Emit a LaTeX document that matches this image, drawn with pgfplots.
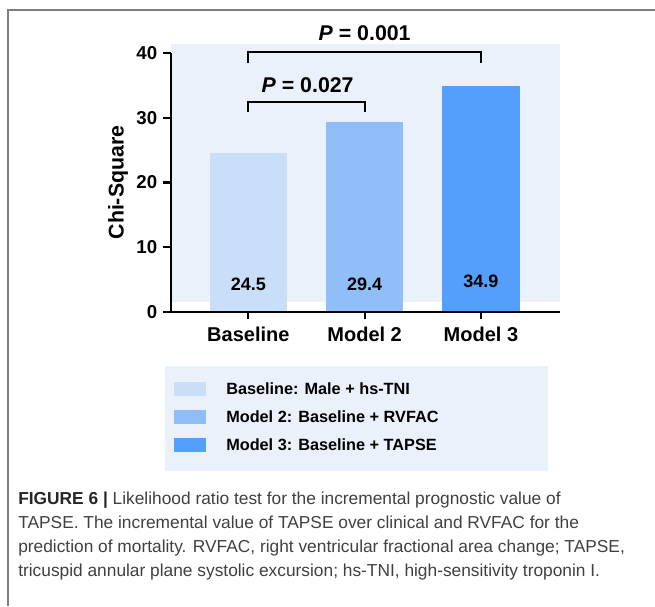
\documentclass[border=0pt]{standalone}
\usepackage{fontspec}
\setmainfont{Liberation Sans}
\usepackage{pgfplots}
\pgfplotsset{compat=1.18}

\definecolor{panelbg}{HTML}{EBF1FA}
\definecolor{barA}{HTML}{C9DEF8}
\definecolor{barB}{HTML}{90BEF8}
\definecolor{barC}{HTML}{539FFB}
\definecolor{framegray}{HTML}{7F7F7F}
\definecolor{captext}{HTML}{404040}

\begin{document}
\begin{tikzpicture}[x=0.75pt,y=0.75pt]
\useasboundingbox (0,0) rectangle (655,-606);
% page frame and legend panel
\draw[framegray, line width=1.5pt] (8,-606) -- (8,-10) -- (655,-10);
\fill[panelbg] (165,-366) rectangle (548,-471);

\begin{axis}[
    at={(128.25pt,-233.775pt)}, anchor=south west,
    scale only axis, width=291.75pt, height=193.8pt,
    xmin=-0.665, xmax=2.68,
    ymin=0, ymax=40,
    clip=false, axis on top,
    axis x line=bottom, axis y line=left,
    axis line style={-, line width=1.6pt, black},
    tick style={black, line width=1.6pt},
    tick align=outside, major tick length=5.8pt,
    xtick={0,1,2},
    xticklabels={Baseline, Model 2, Model 3},
    ytick={0,10,20,30,40},
    /pgf/number format/assume math mode=true,
    yticklabel style={font=\bfseries\fontsize{14}{14}\selectfont, xshift=-1pt},
    xticklabel style={font=\bfseries\fontsize{15}{15}\selectfont, yshift=-2pt},
    ylabel={Chi-Square},
    ylabel style={font=\bfseries\fontsize{16}{16}\selectfont, at={(axis description cs:-0.136,0.5)}, anchor=center},
    legend style={at={(axis description cs:0.0077,-0.272)}, anchor=north west,
        draw=none, fill=none, inner sep=0pt,
        font=\bfseries\fontsize{12.2}{14}\selectfont,
        row sep=10.5pt,
        nodes={inner sep=0pt},
        /tikz/every odd column/.append style={column sep=15pt}},
    legend cell align=left,
    legend image code/.code={\fill[#1] (0pt,-5.25pt) rectangle (24pt,5.25pt);},
]
% tinted plot background
\fill[panelbg] (axis cs:-0.665,1.55) rectangle (axis cs:2.68,41.39);

\addplot[ybar, bar width=58pt, bar shift=0pt, fill=barA, draw=none] coordinates {(0,24.5)};
\addlegendentry{Baseline: Male + hs-TNI}
\addplot[ybar, bar width=58pt, bar shift=0pt, fill=barB, draw=none] coordinates {(1,29.4)};
\addlegendentry{Model 2: Baseline + RVFAC}
\addplot[ybar, bar width=58pt, bar shift=0pt, fill=barC, draw=none] coordinates {(2,34.9)};
\addlegendentry{Model 3: Baseline + TAPSE}

% values inside bars
\node[font=\bfseries\fontsize{13.5}{13.5}\selectfont] at (axis cs:0,4.3) {24.5};
\node[font=\bfseries\fontsize{13.5}{13.5}\selectfont] at (axis cs:1,4.3) {29.4};
\node[font=\bfseries\fontsize{13.5}{13.5}\selectfont] at (axis cs:2,4.65) {34.9};

% significance brackets
\draw[line width=1.6pt] (axis cs:0,38.55) -- (axis cs:0,40.25) -- (axis cs:2,40.25) -- (axis cs:2,38.55);
\draw[line width=1.6pt] (axis cs:0,30.96) -- (axis cs:0,32.5) -- (axis cs:1,32.5) -- (axis cs:1,30.96);
\node[font=\bfseries\fontsize{16}{16}\selectfont] at (axis cs:1,43.1) {\textit{P} = 0.001};
\node[font=\bfseries\fontsize{16}{16}\selectfont] at (axis cs:0.51,35.1) {\textit{P} = 0.027};
\end{axis}

% caption (base anchor = baseline of the last line)
\node[anchor=base west, align=left, text=captext, font=\fontsize{13}{18}\selectfont, inner sep=0pt] at (18,-576)
  {\textbf{\color{black!85}FIGURE 6 |} Likelihood ratio test for the incremental prognostic value of\\
   TAPSE. The incremental value of TAPSE over clinical and RVFAC for the\\
   prediction of mortality. RVFAC, right ventricular fractional area change; TAPSE,\\
   tricuspid annular plane systolic excursion; hs-TNI, high-sensitivity troponin I.};
\end{tikzpicture}
\end{document}
